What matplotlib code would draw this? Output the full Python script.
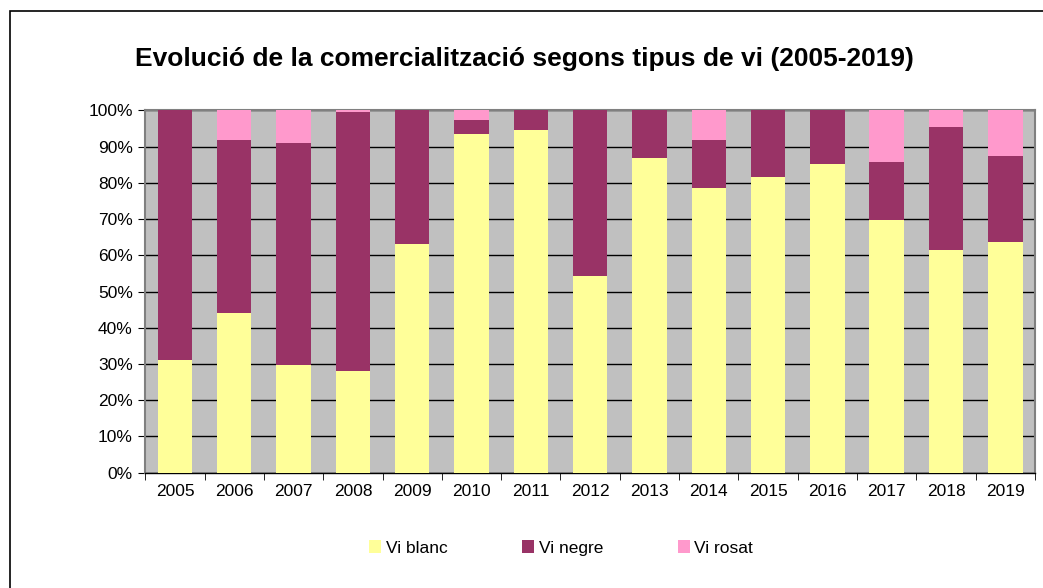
import numpy as np
import matplotlib
matplotlib.use("Agg")
import matplotlib.pyplot as plt
from matplotlib.patches import Rectangle
from matplotlib.ticker import FuncFormatter

plt.rcParams['font.family'] = ['Liberation Sans', 'DejaVu Sans']

anys = ['2005', '2006', '2007', '2008', '2009', '2010', '2011', '2012',
        '2013', '2014', '2015', '2016', '2017', '2018', '2019']
vi_blanc = [31.1, 44.2, 29.6, 28.2, 63.2, 93.6, 94.6, 54.2,
            86.8, 78.6, 81.6, 85.2, 69.9, 61.4, 63.8]
vi_negre = [68.9, 47.7, 61.4, 71.3, 36.8, 3.7, 5.4, 45.8,
            13.2, 13.2, 18.4, 14.8, 16.0, 34.1, 23.6]
vi_rosat = [0.0, 8.1, 9.0, 0.5, 0.0, 2.7, 0.0, 0.0,
            0.0, 8.2, 0.0, 0.0, 14.1, 4.5, 12.6]

fig = plt.figure(figsize=(10.43, 5.88), dpi=100)
ax = fig.add_axes([0.1393, 0.1961, 0.8530, 0.6160])

x = np.arange(len(anys))
w = 0.58
blanc = np.array(vi_blanc)
negre = np.array(vi_negre)
rosat = np.array(vi_rosat)

ax.bar(x, blanc, w, color='#FFFF99', label='Vi blanc', zorder=3)
ax.bar(x, negre, w, bottom=blanc, color='#993366', label='Vi negre', zorder=3)
ax.bar(x, rosat, w, bottom=blanc + negre, color='#FF99CC', label='Vi rosat', zorder=3)

ax.set_facecolor('#C0C0C0')
ax.set_xlim(-0.5, len(anys) - 0.5)
ax.set_ylim(0, 100)
ax.set_yticks(np.arange(0, 101, 10))
ax.yaxis.set_major_formatter(FuncFormatter(lambda v, p: '%d%%' % v))
ax.grid(axis='y', color='black', lw=1, zorder=1)

ax.set_xticks(x)
ax.set_xticklabels(anys)
ax.set_xticks(np.arange(-0.5, len(anys), 1), minor=True)
ax.tick_params(axis='x', which='major', length=0, labelsize=12.5, pad=8)
ax.tick_params(axis='x', which='minor', length=5, color='black', direction='out')
ax.tick_params(axis='y', length=5, color='black', labelsize=12.5, pad=4)

for s in ax.spines.values():
    s.set_color('#808080')
    s.set_linewidth(1.5)
ax.spines['bottom'].set_color('black')
ax.spines['bottom'].set_linewidth(1)

fig.text(0.5025, 0.899, 'Evolució de la comercialització segons tipus de vi (2005-2019)',
         ha='center', va='center', fontsize=19, fontweight='bold')

fig.legend(loc='center', bbox_to_anchor=(0.538, 0.068), ncol=3, frameon=False,
           fontsize=12.5, handlelength=0.7, handleheight=0.7, handletextpad=0.25,
           columnspacing=4.3)

fig.patches.append(Rectangle((10 / 1043, -0.1), 1.2, (588 - 11) / 588 + 0.1,
                             transform=fig.transFigure, fill=False,
                             edgecolor='black', lw=1.2))

fig.savefig('out.png', dpi=100)
